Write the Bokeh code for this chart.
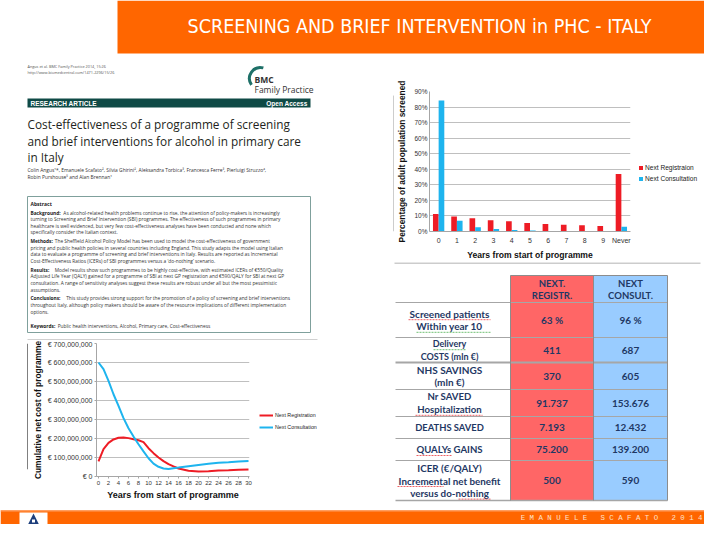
import math
from bokeh.plotting import figure
from bokeh.layouts import column, row
from bokeh.models import Range1d, FactorRange, ColumnDataSource, Legend, LegendItem, FixedTicker
from bokeh.transform import dodge
from bokeh.core.properties import value
from bokeh.embed import file_html
from bokeh.resources import INLINE

# ---------------- data ----------------
slide_title = "SCREENING AND BRIEF INTERVENTION in PHC - ITALY"
footer_text = "E M A N U E L E   S C A F A T O   2 0 1 4"

# bar chart: share of adult population screened, by year from start
bar_categories = ["0", "1", "2", "3", "4", "5", "6", "7", "8", "9", "Never"]
bar_registration = [11.2, 9.6, 8.5, 7.2, 6.6, 5.4, 4.8, 4.3, 4.0, 3.6, 36.9]
bar_consultation = [84.2, 6.9, 2.8, 1.6, 1.0, 0.7, 0.3, 0.2, 0.2, 0.1, 3.1]
bar_series = ["Next Registraion", "Next Consultation"]
pct_ticks = [0, 10, 20, 30, 40, 50, 60, 70, 80, 90]
pct_tick_labels = ["0%", "10%", "20%", "30%", "40%", "50%", "60%", "70%", "80%", "90%"]

# line chart: cumulative net cost of programme (million EUR)
cost_years = [0, 1, 2, 3, 4, 5, 6, 7, 8, 9, 10, 11, 12, 13, 14, 15, 16, 18, 20, 22, 24, 26, 28, 30]
cost_registration = [79, 144, 177, 195, 204, 205, 202, 196, 191, 181, 149, 123, 100, 81, 65, 53, 42,
                     30, 26, 28, 32, 33, 35, 37]
cost_consultation = [600, 565, 503, 433, 372, 307, 254, 210, 170, 132, 96, 68, 51, 42, 40, 44, 47,
                     54, 61, 67, 72, 75, 79, 82]
line_series = ["Next Registration", "Next Consultation"]
cost_ticks = [0, 100, 200, 300, 400, 500, 600, 700]
cost_tick_labels = ["\u20ac 0", "\u20ac 100,000,000", "\u20ac 200,000,000", "\u20ac 300,000,000",
                    "\u20ac 400,000,000", "\u20ac 500,000,000", "\u20ac 600,000,000", "\u20ac 700,000,000"]
year_ticks = [0, 2, 4, 6, 8, 10, 12, 14, 16, 18, 20, 22, 24, 26, 28, 30]

# table
table_header = [["NEXT.", "REGISTR."], ["NEXT", "CONSULT."]]
table_row_labels = [["Screened patients", "Within year 10"],
                    ["Delivery", "COSTS (mln \u20ac)"],
                    ["NHS SAVINGS", "(mln \u20ac)"],
                    ["Nr SAVED", "Hospitalization"],
                    ["DEATHS SAVED"],
                    ["QUALYs GAINS"],
                    ["ICER (\u20ac/QALY)", "Incremental net benefit", "versus do-nothing"]]
table_registration = ["63 %", "411", "370", "91.737", "7.193", "75.200", "500"]
table_consultation = ["96 %", "687", "605", "153.676", "12.432", "139.200", "590"]

# paper
paper_ref = ["Angus et al. BMC Family Practice 2014, 15:26",
             "http://www.biomedcentral.com/1471-2296/15/26"]
paper_title = ["Cost-effectiveness of a programme of screening",
               "and brief interventions for alcohol in primary care",
               "in Italy"]
paper_authors = ["Colin Angus\u00b9*, Emanuele Scafato\u00b2, Silvia Ghirini\u00b2, Aleksandra Torbica\u00b3, Francesca Ferre\u00b3,  Pierluigi Struzzo\u2074,",
                 "Robin Purshouse\u2075 and Alan Brennan\u00b9"]
abstract_lines = [
    ("Background:", "As alcohol-related health problems continue to rise, the attention of policy-makers is increasingly"),
    (None, "turning to Screening and Brief Intervention (SBI) programmes. The effectiveness of such programmes in primary"),
    (None, "healthcare is well evidenced, but very few cost-effectiveness analyses have been conducted and none which"),
    (None, "specifically consider the Italian context."),
    ("Methods:", "The Sheffield Alcohol Policy Model has been used to model the cost-effectiveness of government"),
    (None, "pricing and public health policies in several countries including England. This study adapts the model using Italian"),
    (None, "data to evaluate a programme of screening and brief interventions in Italy. Results are reported as Incremental"),
    (None, "Cost-Effectiveness Ratios (ICERs) of SBI programmes versus a \u2018do-nothing\u2019 scenario."),
    ("Results:", "Model results show such programmes to be highly cost-effective, with estimated ICERs of \u20ac550/Quality"),
    (None, "Adjusted Life Year (QALY) gained for a programme of SBI at next GP registration and \u20ac590/QALY for SBI at next GP"),
    (None, "consultation. A range of sensitivity analyses suggest these results are robust under all but the most pessimistic"),
    (None, "assumptions."),
    ("Conclusions:", "This study provides strong support for the promotion of a policy of screening and brief interventions"),
    (None, "throughout Italy, although policy makers should be aware of the resource implications of different implementation"),
    (None, "options."),
    ("Keywords:", "Public health interventions, Alcohol, Primary care, Cost-effectiveness"),
]

# ---------------- style ----------------
ORANGE = "#FF6600"
RED = "#EE1C25"
BLUE = "#1EB4EE"
T_RED = "#FF6666"
T_BLUE = "#99CCFF"
NAVY = "#1F3864"
TEAL = "#0F4A46"
GRID = "#BFBFBF"
AX = "#A6A6A6"
CHART_FONT = "Liberation Sans"


def canvas(w, h, x0, x1, y0, y1):
    p = figure(width=w, height=h, x_range=Range1d(x0, x1), y_range=Range1d(y1, y0),
               toolbar_location=None, output_backend="svg",
               x_axis_location=None, y_axis_location=None,
               min_border=0, outline_line_color=None)
    p.grid.visible = False
    return p


def txt(p, xs, ys, texts, size, color="#222222", font="Open Sans", style="normal",
        align="left", baseline="middle"):
    p.text(x=xs, y=ys, text=texts, text_font=value(font), text_font_size=f"{size}px",
           text_color=color, text_font_style=style, text_align=align, text_baseline=baseline)


def style_axes(p):
    for ax in (p.xaxis[0], p.yaxis[0]):
        ax.axis_line_color = AX
        ax.minor_tick_line_color = None
        ax.major_tick_in = 0
        ax.major_label_text_font = CHART_FONT
        ax.major_label_text_color = "#333333"
        ax.axis_label_text_font = CHART_FONT
        ax.axis_label_text_font_style = "bold"
        ax.axis_label_text_color = "#111111"


def legend_box(p, items, loc, gw, gh, fs, spacing):
    leg = Legend(items=items, location=loc, orientation="vertical",
                 glyph_width=gw, glyph_height=gh, label_height=gh, label_width=10,
                 label_standoff=2, spacing=spacing, padding=0, margin=0,
                 border_line_color=None, background_fill_alpha=0,
                 label_text_font=CHART_FONT, label_text_font_size=fs, label_text_color="#222222")
    p.add_layout(leg)


# ---------------- header (0..56) ----------------
hp = canvas(704, 56, 0, 704, 0, 56)
hp.quad(left=[117], right=[720], top=[0], bottom=[53], fill_color=ORANGE, line_color=None)
txt(hp, [419], [26], [slide_title], 19.5, color="white",
    font="Liberation Sans Narrow, DejaVu Sans Condensed, sans-serif", align="center")

# ---------------- paper (left, 56..340) ----------------
pp = canvas(352, 284, 0, 352, 56, 340)
txt(pp, [27, 27], [66, 71.5], paper_ref, 3.8, color="#555555")
pp.arc(x=[260], y=[78], radius=11, radius_units="screen",
       start_angle=math.radians(75), end_angle=math.radians(215), direction="anticlock",
       line_color="#1E7068", line_width=3)
txt(pp, [254], [78.5], ["BMC"], 8.5, color="#333333", style="bold")
txt(pp, [254], [89], ["Family Practice"], 8.5, color="#333333")
pp.quad(left=[27], right=[310], top=[98], bottom=[107], fill_color=TEAL, line_color=None)
txt(pp, [30], [102.7], ["RESEARCH ARTICLE"], 6.5, color="white", font="Liberation Sans", style="bold")
txt(pp, [307], [102.7], ["Open Access"], 6.5, color="white", font="Liberation Sans", style="bold", align="right")
txt(pp, [27, 27, 27], [123, 140, 156], paper_title, 11.8, color="#231F20")
txt(pp, [27, 27], [169, 176.5], paper_authors, 4.9, color="#333333")
pp.quad(left=[27], right=[310], top=[196], bottom=[332], fill_color=None,
        line_color="#7FA09C", line_width=1)
txt(pp, [30], [203], ["Abstract"], 5, color="#222222", style="bold")
y = 212.0
first = True
for head, rest in abstract_lines:
    if head is not None and not first:
        y += 2.2
        if head == "Keywords:":
            y += 6
    first = False
    if head is not None:
        txt(pp, [30], [y], [head], 4.8, color="#222222", style="bold")
        txt(pp, [30 + len(head) * 2.85 + 1.5], [y], [rest], 4.8, color="#333333")
    else:
        txt(pp, [30], [y], [rest], 4.8, color="#333333")
    y += 6.6
pp.segment(x0=[27], y0=[339.5], x1=[317], y1=[339.5], line_color="#A0A0A0", line_width=1)

# ---------------- line chart (left, 340..506) ----------------
sl = canvas(28, 166, 0, 28, 340, 506)
sl.segment(x0=[27.5], y0=[340], x1=[27.5], y1=[497], line_color="#000000", line_width=1)

lp = figure(width=228, height=166, x_range=Range1d(-0.4, 30.2), y_range=Range1d(0, 700),
            toolbar_location=None, output_backend="svg",
            min_border_left=68, min_border_right=7, min_border_top=3, min_border_bottom=30)
lp.outline_line_color = None
lp.xgrid.visible = False
lp.ygrid.grid_line_color = GRID
lp.xaxis.ticker = FixedTicker(ticks=year_ticks)
lp.yaxis.ticker = FixedTicker(ticks=cost_ticks)
lp.yaxis.major_label_overrides = dict(zip(cost_ticks, cost_tick_labels))
style_axes(lp)
lp.axis.major_tick_line_color = AX
lp.axis.major_tick_out = 2
lp.axis.major_label_standoff = 2
lp.yaxis.major_label_text_font_size = "7px"
lp.xaxis.major_label_text_font_size = "6px"
lp.yaxis.axis_label = "Cumulative net cost of programme"
lp.xaxis.axis_label = "Years from start of programme"
lp.yaxis.axis_label_text_font_size = "8.4px"
lp.xaxis.axis_label_text_font_size = "9px"
lp.yaxis.axis_label_standoff = 2
lp.xaxis.axis_label_standoff = 2

lsrc = ColumnDataSource(dict(x=cost_years, reg=cost_registration, con=cost_consultation))
lp.line("x", "reg", source=lsrc, line_color=RED, line_width=2)
lp.line("x", "con", source=lsrc, line_color=BLUE, line_width=2)

# legend panel beside the line chart (keys drawn outside the visible range)
lc = canvas(96, 166, 256, 352, 340, 506)
lk1 = lc.line(x=[0, 1], y=[0, 0], line_color=RED, line_width=2)
lk2 = lc.line(x=[0, 1], y=[0, 0], line_color=BLUE, line_width=2)
legend_box(lc, [LegendItem(label=line_series[0], renderers=[lk1]),
                LegendItem(label=line_series[1], renderers=[lk2])],
           (3, 46), 14, 6, "5.3px", 6)

# ---------------- bar chart (right, 56..262) ----------------
sr = canvas(42, 206, 352, 394, 56, 262)
sr.segment(x0=[393.5], y0=[62], x1=[393.5], y1=[262], line_color="#9A9A9A", line_width=1)

bp = figure(width=244, height=206, x_range=FactorRange(factors=bar_categories),
            y_range=Range1d(0, 90), toolbar_location=None, output_backend="svg",
            min_border_left=34, min_border_right=8, min_border_top=35, min_border_bottom=28)
bp.outline_line_color = None
bp.xgrid.visible = False
bp.ygrid.grid_line_color = GRID
bp.yaxis.ticker = FixedTicker(ticks=pct_ticks)
bp.yaxis.major_label_overrides = dict(zip(pct_ticks, pct_tick_labels))
style_axes(bp)
bp.axis.major_tick_line_color = None
bp.axis.major_tick_out = 0
bp.yaxis.major_label_text_font_size = "6.5px"
bp.xaxis.major_label_text_font_size = "7px"
bp.yaxis.major_label_standoff = 2
bp.xaxis.major_label_standoff = 5
bp.yaxis.axis_label = "Percentage of adult population screened"
bp.xaxis.axis_label = "Years from start of programme"
bp.yaxis.axis_label_text_font_size = "8.4px"
bp.xaxis.axis_label_text_font_size = "8.6px"
bp.yaxis.axis_label_standoff = 4
bp.xaxis.axis_label_standoff = 3

bsrc = ColumnDataSource(dict(cat=bar_categories, reg=bar_registration, con=bar_consultation))
bp.vbar(x=dodge("cat", -0.155, range=bp.x_range), top="reg", width=0.31, source=bsrc,
        fill_color=RED, line_color=None)
bp.vbar(x=dodge("cat", 0.155, range=bp.x_range), top="con", width=0.31, source=bsrc,
        fill_color=BLUE, line_color=None)

# legend panel beside the bar chart (keys drawn outside the visible range)
bc = canvas(66, 206, 638, 704, 56, 262)
bk1 = bc.quad(left=[0], right=[1], top=[0], bottom=[1], fill_color=RED, line_color=None)
bk2 = bc.quad(left=[0], right=[1], top=[0], bottom=[1], fill_color=BLUE, line_color=None)
legend_box(bc, [LegendItem(label=bar_series[0], renderers=[bk1]),
                LegendItem(label=bar_series[1], renderers=[bk2])],
           (0, 49), 5, 5, "6.6px", 4)

# ---------------- table (right, 262..506) ----------------
tp = canvas(352, 244, 352, 704, 262, 506)
tp.segment(x0=[394], y0=[262.5], x1=[700], y1=[262.5], line_color="#9A9A9A", line_width=1)
col_edges = [395, 510, 593, 667]
row_edges = [302, 337, 362, 389, 416, 438, 460, 500]
tp.quad(left=col_edges[1:3], right=col_edges[2:4], top=[275, 275], bottom=[500, 500],
        fill_color=[T_RED, T_BLUE], line_color=None)
tp.segment(x0=[col_edges[0]] * len(row_edges), y0=row_edges, x1=[col_edges[3]] * len(row_edges),
           y1=row_edges, line_color="#A6A6A6", line_width=[1, 1, 2, 1, 1, 1, 1, 1.5])
tp.segment(x0=[col_edges[1]], y0=[275], x1=[col_edges[3]], y1=[275], line_color="#8C8C8C", line_width=1)
tp.segment(x0=col_edges[1:], y0=[275] * 3, x1=col_edges[1:], y1=[500] * 3,
           line_color="#8C8C8C", line_width=1)

cx_lab = 449
cx_reg = (col_edges[1] + col_edges[2]) / 2
cx_con = (col_edges[2] + col_edges[3]) / 2
txt(tp, [cx_reg, cx_reg], [283, 295], table_header[0], 9.5, color=NAVY, font="Lato", style="bold", align="center")
txt(tp, [cx_con, cx_con], [283, 295], table_header[1], 9.5, color=NAVY, font="Lato", style="bold", align="center")
label_sizes = [10, 9, 10, 9.6, 9.4, 9.6, 9.8]
label_ys = []
for i, labels in enumerate(table_row_labels):
    top, bot = row_edges[i], row_edges[i + 1]
    mid = (top + bot) / 2
    n = len(labels)
    ys = [mid + (k - (n - 1) / 2) * 12.6 for k in range(n)]
    label_ys.append(ys)
    txt(tp, [cx_lab] * n, ys, labels, label_sizes[i], color=NAVY, font="Lato", style="bold", align="center")
    txt(tp, [cx_reg], [mid], [table_registration[i]], 10, color=NAVY, font="Lato", style="bold", align="center")
    txt(tp, [cx_con], [mid], [table_consultation[i]], 10, color=NAVY, font="Lato", style="bold", align="center")

# spell-check style underlines seen under some label words of the slide table
ul_red = [(408, 490, label_ys[0][0]), (415, 482, label_ys[3][1]), (416, 451, label_ys[5][0]),
          (397, 443, label_ys[6][1]), (458, 490, label_ys[6][2])]
ul_green = [(416, 490, label_ys[0][1]), (433, 466, label_ys[1][0])]
tp.segment(x0=[a for a, b, c in ul_red], y0=[c + 6 for a, b, c in ul_red],
           x1=[b for a, b, c in ul_red], y1=[c + 6 for a, b, c in ul_red],
           line_color="#E8383D", line_width=1, line_dash="2 1", line_alpha=0.8)
tp.segment(x0=[a for a, b, c in ul_green], y0=[c + 6 for a, b, c in ul_green],
           x1=[b for a, b, c in ul_green], y1=[c + 6 for a, b, c in ul_green],
           line_color="#4CAF50", line_width=1, line_dash="2 1", line_alpha=0.8)

# ---------------- footer (506..524) ----------------
fp = canvas(704, 18, 0, 704, 506, 524)
fp.quad(left=[0], right=[720], top=[510], bottom=[540], fill_color=ORANGE, line_color=None)
fp.quad(left=[0], right=[720], top=[509.5], bottom=[511], fill_color="#FF9E60", line_color=None)
fp.quad(left=[19], right=[47], top=[512], bottom=[540], fill_color="white", line_color=None)
fp.patch(x=[21, 45, 33], y=[537, 537, 513], fill_color="#1D3F7C", line_color=None)
fp.quad(left=[27.5], right=[38.5], top=[524.5], bottom=[527.5], fill_color="white", line_color=None)
fp.quad(left=[31.5], right=[34.5], top=[519], bottom=[522], fill_color="white", line_color=None)
txt(fp, [702], [517.5], [footer_text.replace(" ", "\u00a0")], 7.4, color="#FFE2CC",
    font="Liberation Mono", align="right")

# ---------------- layout ----------------
left_col = column(pp, row(sl, lp, lc))
right_col = column(row(sr, bp, bc), tp)
page = column(hp, row(left_col, right_col), fp)

open("out.html", "w").write(file_html(page, INLINE))
